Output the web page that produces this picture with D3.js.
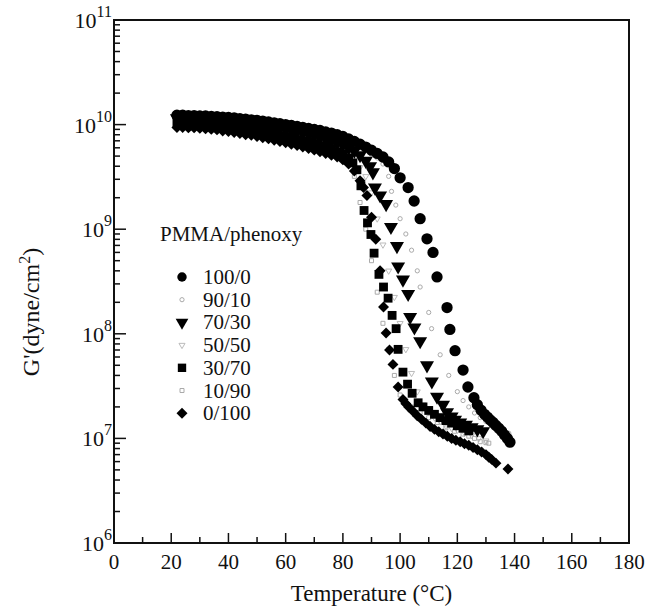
<!DOCTYPE html>
<html>
<head>
<meta charset="utf-8">
<script src="https://cdn.jsdelivr.net/npm/d3@7"></script>
<style>
  body { margin: 0; background: #fff; }
  text { font-family: "Liberation Serif", "Times New Roman", serif; fill: #111; }
</style>
</head>
<body>
<div class="canvas"></div>
<script>
// data: temperature (°C) and G' (dyne/cm2)
// glassy plateau, all blends sampled every 2 °C
const glassyT = [22, 24, 26, 28, 30, 32, 34, 36, 38, 40, 42, 44, 46, 48, 50, 52, 54, 56, 58, 60, 62, 64, 66, 68, 70, 72, 74, 76, 78, 80];

const s100_0 = {
    T: glassyT.concat([82, 84, 86, 88, 90, 92, 94, 96, 98, 100, 102.8, 104.9, 107, 109.4, 111.5, 112.9, 116.4, 117.4, 119.2, 122, 123.7, 125.8, 127, 128.3, 129.5, 130.5, 131.5, 132.5, 133.5, 134.5, 135.5, 136.5, 137.5, 138.4]),
    G: [12.3e9, 12.3e9, 12.2e9, 12.2e9, 12.1e9, 12.1e9, 12.0e9, 11.9e9, 11.8e9, 11.7e9, 11.6e9, 11.4e9, 11.3e9, 11.1e9, 11.0e9, 10.8e9, 10.6e9, 10.4e9, 10.2e9, 10.0e9, 9.8e9, 9.6e9, 9.4e9, 9.2e9, 9.0e9, 8.8e9, 8.5e9, 8.3e9, 8.0e9, 7.7e9,
        7.3e9, 6.9e9, 6.5e9, 6.1e9, 5.7e9, 5.3e9, 4.9e9, 4.4e9, 3.8e9, 3.1e9, 2.5e9, 1.86e9, 1.26e9, 8.1e8, 6.0e8, 3.5e8, 1.78e8, 1.1e8, 6.9e7, 4.5e7, 3.1e7, 2.45e7, 2.1e7, 1.86e7, 1.7e7, 1.6e7, 1.5e7, 1.42e7, 1.33e7, 1.25e7, 1.17e7, 1.08e7, 1.0e7, 9.2e6]
};
const s90_10 = {
    T: glassyT.concat([82, 84, 86, 88, 90, 92, 94, 96, 97, 98.5, 100, 102, 104, 106, 107, 110, 111, 114, 117, 120, 122, 124, 126, 128, 130, 132, 134, 136, 138]),
    G: [11.9e9, 11.9e9, 11.8e9, 11.8e9, 11.7e9, 11.7e9, 11.6e9, 11.5e9, 11.4e9, 11.3e9, 11.2e9, 11.0e9, 10.9e9, 10.7e9, 10.5e9, 10.3e9, 10.1e9, 9.9e9, 9.7e9, 9.5e9, 9.3e9, 9.1e9, 8.9e9, 8.7e9, 8.5e9, 8.2e9, 8.0e9, 7.7e9, 7.4e9, 7.1e9,
        6.8e9, 6.4e9, 6.0e9, 5.6e9, 5.2e9, 4.8e9, 4.2e9, 3.2e9, 2.3e9, 1.7e9, 1.26e9, 9.0e8, 6.3e8, 4.0e8, 2.8e8, 1.6e8, 1.12e8, 6.3e7, 4.0e7, 2.8e7, 2.3e7, 2.0e7, 1.75e7, 1.58e7, 1.45e7, 1.32e7, 1.25e7, 1.18e7, 1.12e7]
};
const s70_30 = {
    T: glassyT.concat([82, 84, 86, 88, 89.5, 90.5, 91.2, 93, 95.1, 96.8, 98.9, 99.3, 101, 102.8, 103.5, 105, 107, 109.4, 111.1, 112.9, 115, 116.4, 118, 119.2, 121, 123, 125, 127, 129]),
    G: [11.5e9, 11.5e9, 11.4e9, 11.4e9, 11.3e9, 11.3e9, 11.2e9, 11.1e9, 11.0e9, 10.9e9, 10.8e9, 10.6e9, 10.4e9, 10.2e9, 10.0e9, 9.8e9, 9.6e9, 9.4e9, 9.2e9, 9.0e9, 8.8e9, 8.6e9, 8.4e9, 8.1e9, 7.9e9, 7.6e9, 7.3e9, 7.0e9, 6.7e9, 6.4e9,
        6.0e9, 5.6e9, 5.1e9, 4.5e9, 4.0e9, 3.5e9, 2.5e9, 2.1e9, 1.74e9, 1.05e9, 6.9e8, 4.4e8, 3.3e8, 2.4e8, 1.45e8, 1.15e8, 8.5e7, 5.0e7, 3.5e7, 2.5e7, 2.1e7, 1.78e7, 1.62e7, 1.51e7, 1.42e7, 1.35e7, 1.28e7, 1.22e7, 1.17e7]
};
const s50_50 = {
    T: glassyT.concat([82, 84, 86, 88, 90, 92, 94, 96, 98, 100, 102, 104, 106, 108, 110, 112, 114, 116, 118, 120, 122.5, 125, 127.5, 130]),
    G: [10.9e9, 10.9e9, 10.8e9, 10.8e9, 10.7e9, 10.7e9, 10.6e9, 10.5e9, 10.3e9, 10.2e9, 10.0e9, 9.8e9, 9.6e9, 9.4e9, 9.2e9, 9.0e9, 8.8e9, 8.6e9, 8.4e9, 8.2e9, 8.0e9, 7.8e9, 7.6e9, 7.3e9, 7.1e9, 6.8e9, 6.5e9, 6.2e9, 5.9e9, 5.6e9,
        5.2e9, 4.6e9, 3.9e9, 3.2e9, 2.24e9, 1.26e9, 7.1e8, 4.0e8, 2.24e8, 1.26e8, 7.1e7, 4.2e7, 2.8e7, 2.1e7, 1.8e7, 1.58e7, 1.45e7, 1.32e7, 1.25e7, 1.2e7, 1.13e7, 1.07e7, 1.0e7, 9.5e6]
};
const s30_70 = {
    T: glassyT.concat([82, 83.5, 84.9, 86.3, 87.4, 88.6, 89.8, 90.9, 92.6, 94.2, 95.8, 97.2, 98.6, 99.3, 101, 102.6, 104.2, 106.3, 108, 110, 112, 114, 116, 118, 120, 122, 124]),
    G: [10.5e9, 10.4e9, 10.4e9, 10.3e9, 10.3e9, 10.2e9, 10.1e9, 10.0e9, 9.8e9, 9.6e9, 9.4e9, 9.2e9, 9.0e9, 8.8e9, 8.6e9, 8.4e9, 8.2e9, 8.0e9, 7.8e9, 7.6e9, 7.4e9, 7.2e9, 7.0e9, 6.8e9, 6.6e9, 6.3e9, 6.1e9, 5.8e9, 5.5e9, 5.2e9,
        4.8e9, 4.3e9, 3.7e9, 2.6e9, 1.51e9, 1.15e9, 8.9e8, 5.9e8, 3.7e8, 2.8e8, 2.19e8, 1.5e8, 1.12e8, 7.1e7, 4.3e7, 3.3e7, 2.7e7, 2.19e7, 2.0e7, 1.85e7, 1.7e7, 1.58e7, 1.48e7, 1.4e7, 1.32e7, 1.25e7, 1.18e7]
};
const s10_90 = {
    T: glassyT.concat([82, 84, 86, 88, 90, 92, 94, 96, 98, 100, 102, 104, 107, 110, 113, 116, 119, 122, 124, 126, 128, 130, 131]),
    G: [10.0e9, 9.9e9, 9.9e9, 9.8e9, 9.7e9, 9.6e9, 9.5e9, 9.4e9, 9.2e9, 9.0e9, 8.8e9, 8.6e9, 8.4e9, 8.2e9, 8.0e9, 7.8e9, 7.6e9, 7.4e9, 7.2e9, 7.0e9, 6.8e9, 6.6e9, 6.4e9, 6.2e9, 6.0e9, 5.8e9, 5.6e9, 5.3e9, 5.0e9, 4.7e9,
        4.3e9, 3.2e9, 1.8e9, 1.0e9, 5.0e8, 2.5e8, 1.26e8, 7.1e7, 4.0e7, 2.6e7, 2.25e7, 2.0e7, 1.78e7, 1.58e7, 1.42e7, 1.26e7, 1.17e7, 1.1e7, 1.05e7, 1.0e7, 9.3e6, 9.1e6, 9.0e6]
};
const s0_100 = {
    T: glassyT.concat([82, 84, 86, 87.2, 88.4, 90, 91.5, 93, 94.2, 95.1, 96.3, 97.5, 99.3, 101, 102, 103, 104.5, 106, 107.5, 109, 110.5, 112, 113.5, 115, 116.5, 118, 119.5, 121, 122.5, 124, 125.5, 127, 128.5, 130, 131, 132, 133.5, 137.7]),
    G: [9.4e9, 9.4e9, 9.3e9, 9.3e9, 9.2e9, 9.1e9, 9.0e9, 8.9e9, 8.7e9, 8.6e9, 8.4e9, 8.2e9, 8.0e9, 7.9e9, 7.7e9, 7.5e9, 7.3e9, 7.1e9, 6.9e9, 6.7e9, 6.5e9, 6.3e9, 6.1e9, 5.9e9, 5.7e9, 5.5e9, 5.3e9, 5.1e9, 4.9e9, 4.6e9,
        4.2e9, 3.6e9, 2.9e9, 2.5e9, 2.1e9, 1.3e9, 8.0e8, 4.0e8, 1.8e8, 1.02e8, 7.0e7, 5.1e7, 3.1e7, 2.35e7, 2.15e7, 2.0e7, 1.82e7, 1.65e7, 1.52e7, 1.4e7, 1.3e7, 1.22e7, 1.16e7, 1.1e7, 1.05e7, 1.0e7, 9.6e6, 9.3e6, 8.9e6, 8.6e6, 8.2e6, 7.8e6, 7.4e6, 7.0e6, 6.6e6, 6.3e6, 5.8e6, 5.1e6]
};

const seriesNames = ['100/0', '90/10', '70/30', '50/50', '30/70', '10/90', '0/100'];
const seriesData = [s100_0, s90_10, s70_30, s50_50, s30_70, s10_90, s0_100];
const xTicks = [0, 20, 40, 60, 80, 100, 120, 140, 160, 180];
const yExponents = [6, 7, 8, 9, 10, 11];

// marker look per series
const markers = [
    { type: d3.symbolCircle, size: 100, fill: '#000', stroke: 'none', rot: 0 },
    { type: d3.symbolCircle, size: 14, fill: 'none', stroke: '#aaa', rot: 0 },
    { type: d3.symbolTriangle, size: 85, fill: '#000', stroke: 'none', rot: 180 },
    { type: d3.symbolTriangle, size: 16, fill: 'none', stroke: '#bbb', rot: 180 },
    { type: d3.symbolSquare, size: 78, fill: '#000', stroke: 'none', rot: 0 },
    { type: d3.symbolSquare, size: 16, fill: 'none', stroke: '#aaa', rot: 0 },
    { type: d3.symbolSquare, size: 60, fill: '#000', stroke: 'none', rot: 45 }
];

const svg = d3.select('.canvas')
    .append('svg')
    .attr('width', 650)
    .attr('height', 613);

// plot box
const box = { left: 114, right: 629, top: 20, bottom: 543 };

const x = d3.scaleLinear().domain([0, 180]).range([box.left, box.right]);
const y = d3.scaleLog().domain([1e6, 1e11]).range([box.bottom, box.top]);

// frame
svg.append('rect')
    .attr('x', box.left).attr('y', box.top)
    .attr('width', box.right - box.left).attr('height', box.bottom - box.top)
    .attr('fill', 'none').attr('stroke', '#111').attr('stroke-width', 2);

// bottom ticks (inward)
const xMinor = d3.range(10, 180, 10);
svg.append('g').selectAll('line')
    .data(xMinor)
    .enter().append('line')
    .attr('x1', d => x(d)).attr('x2', d => x(d))
    .attr('y1', box.bottom).attr('y2', d => box.bottom - (d % 20 === 0 ? 10 : 6))
    .attr('stroke', '#111').attr('stroke-width', 1.5);

// left ticks (log, inward)
const yMinor = [];
for (let e = 6; e < 11; e++) {
    for (let m = 2; m <= 9; m++) yMinor.push(m * Math.pow(10, e));
}
svg.append('g').selectAll('line')
    .data(yMinor)
    .enter().append('line')
    .attr('x1', box.left).attr('x2', box.left + 6)
    .attr('y1', d => y(d)).attr('y2', d => y(d))
    .attr('stroke', '#111').attr('stroke-width', 1.5);
svg.append('g').selectAll('line')
    .data(yExponents.slice(1, -1))
    .enter().append('line')
    .attr('x1', box.left).attr('x2', box.left + 12)
    .attr('y1', d => y(Math.pow(10, d))).attr('y2', d => y(Math.pow(10, d)))
    .attr('stroke', '#111').attr('stroke-width', 1.5);

// x tick labels
svg.append('g').selectAll('text')
    .data(xTicks)
    .enter().append('text')
    .attr('x', d => x(d))
    .attr('y', box.bottom + 26)
    .attr('text-anchor', 'middle')
    .attr('font-size', 21)
    .text(d => d);

// y tick labels: 10^n
const yLab = svg.append('g').selectAll('text')
    .data(yExponents)
    .enter().append('text')
    .attr('x', box.left - 2)
    .attr('y', d => y(Math.pow(10, d)) + 8)
    .attr('text-anchor', 'end')
    .attr('font-size', 22);
yLab.append('tspan').text('10');
yLab.append('tspan')
    .attr('dy', -11)
    .attr('font-size', 16)
    .text(d => d);

// axis titles
svg.append('text')
    .attr('x', (box.left + box.right) / 2)
    .attr('y', 601)
    .attr('text-anchor', 'middle')
    .attr('font-size', 23)
    .text('Temperature (°C)');

const yt = svg.append('text')
    .attr('transform', 'translate(39, 312) rotate(-90)')
    .attr('text-anchor', 'middle')
    .attr('font-size', 24);
yt.append('tspan').text("G'(dyne/cm");
yt.append('tspan').attr('dy', -9).attr('font-size', 16).text('2');
yt.append('tspan').attr('dy', 9).text(')');

// points: faint series first, black ones on top
const drawOrder = [1, 3, 5, 0, 2, 4, 6];
drawOrder.forEach(i => {
    const s = seriesData[i];
    const mk = markers[i];
    const pts = s.T.map((t, j) => ({ t: t, g: s.G[j] }));
    svg.append('g').selectAll('path')
        .data(pts)
        .enter().append('path')
        .attr('d', d3.symbol().type(mk.type).size(mk.size))
        .attr('transform', d => `translate(${x(d.t)},${y(d.g)}) rotate(${mk.rot})`)
        .attr('fill', mk.fill)
        .attr('stroke', mk.stroke)
        .attr('stroke-width', 1);
});

// legend
const legend = svg.append('g');
legend.append('text')
    .attr('x', 160).attr('y', 241)
    .attr('font-size', 21)
    .text('PMMA/phenoxy');

const items = legend.selectAll('g.item')
    .data(seriesNames)
    .enter().append('g')
    .attr('class', 'item')
    .attr('transform', (d, i) => `translate(0, ${277 + i * 22.7})`);
items.append('path')
    .attr('d', (d, i) => d3.symbol().type(markers[i].type).size(Math.min(markers[i].size, 70))())
    .attr('transform', (d, i) => `translate(182,0) rotate(${markers[i].rot})`)
    .attr('fill', (d, i) => markers[i].fill)
    .attr('stroke', (d, i) => markers[i].stroke);
items.append('text')
    .attr('x', 203).attr('y', 7)
    .attr('font-size', 21)
    .text(d => d);
</script>
</body>
</html>
